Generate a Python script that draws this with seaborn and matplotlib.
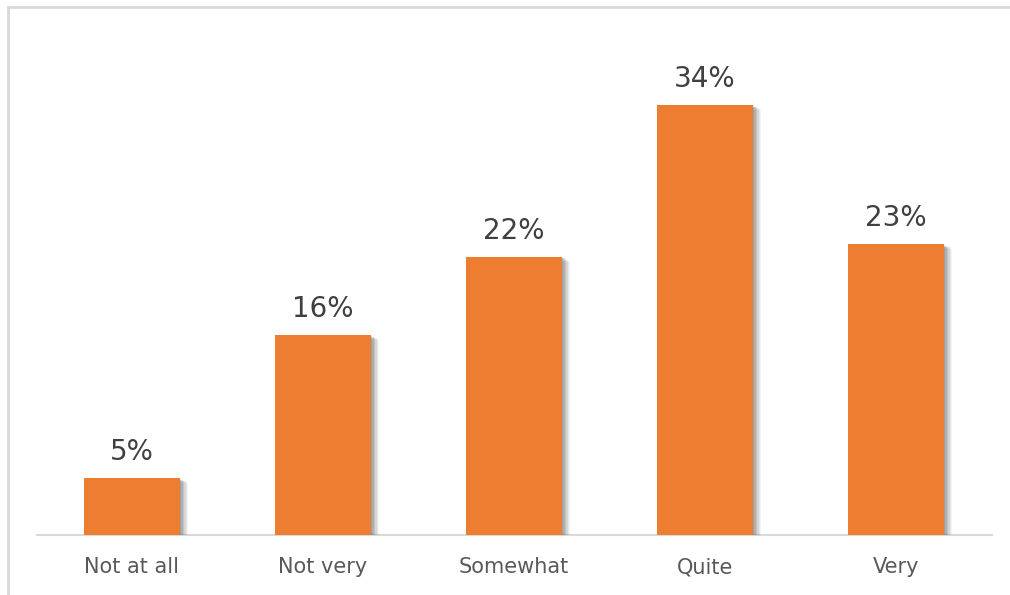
import matplotlib
matplotlib.use("Agg")
import matplotlib.pyplot as plt
import matplotlib.patheffects as pe
from matplotlib.patches import Rectangle
import seaborn as sns
import pandas as pd

categories = ["Not at all", "Not very", "Somewhat", "Quite", "Very"]
values = [4.5, 15.8, 22.0, 34.0, 23.0]
labels = ["5%", "16%", "22%", "34%", "23%"]

sns.set_theme(style="white")
plt.rcParams['font.family'] = ['DejaVu Sans']

W, H = 1010, 595
fig = plt.figure(figsize=(W / 100, H / 100), dpi=100)
ax = fig.add_axes([36.5 / W, (H - 535) / H, 955 / W, 506 / H])

df = pd.DataFrame({"cat": categories, "val": values})
sns.barplot(data=df, x="cat", y="val", color="#ED7D31", width=0.503,
            saturation=1, linewidth=0, ax=ax, zorder=3)

shadow = [
    pe.SimplePatchShadow(offset=(o, -o * 0.6), shadow_rgbFace="#606060", alpha=a)
    for o, a in [(6, 0.06), (5, 0.09), (4, 0.12), (3, 0.16), (2, 0.2), (1, 0.2)]
]
for p in ax.patches:
    p.set_path_effects(shadow + [pe.Normal()])

for i, (v, lab) in enumerate(zip(values, labels)):
    ax.annotate(lab, xy=(i, v), xytext=(0, 12), textcoords="offset pixels",
                ha="center", va="bottom", fontsize=20, color="#404040")

ax.set_ylim(0, 40)
ax.set_xlim(-0.5, len(categories) - 0.5)
ax.set_xlabel("")
ax.set_ylabel("")
ax.set_yticks([])
ax.tick_params(axis="x", length=0, pad=16, labelsize=15, labelcolor="#595959")
for s in ["top", "right", "left"]:
    ax.spines[s].set_visible(False)
ax.spines["bottom"].set_color("#D9D9D9")
ax.spines["bottom"].set_linewidth(1.5)
ax.set_facecolor("none")

fig.patches.append(Rectangle((7.5 / W, -0.1), 1.2, 1.1 - 7 / H,
                             transform=fig.transFigure, fill=False,
                             edgecolor="#D9D9D9", linewidth=2, zorder=0))

fig.savefig("out.png", dpi=100, facecolor="white")
